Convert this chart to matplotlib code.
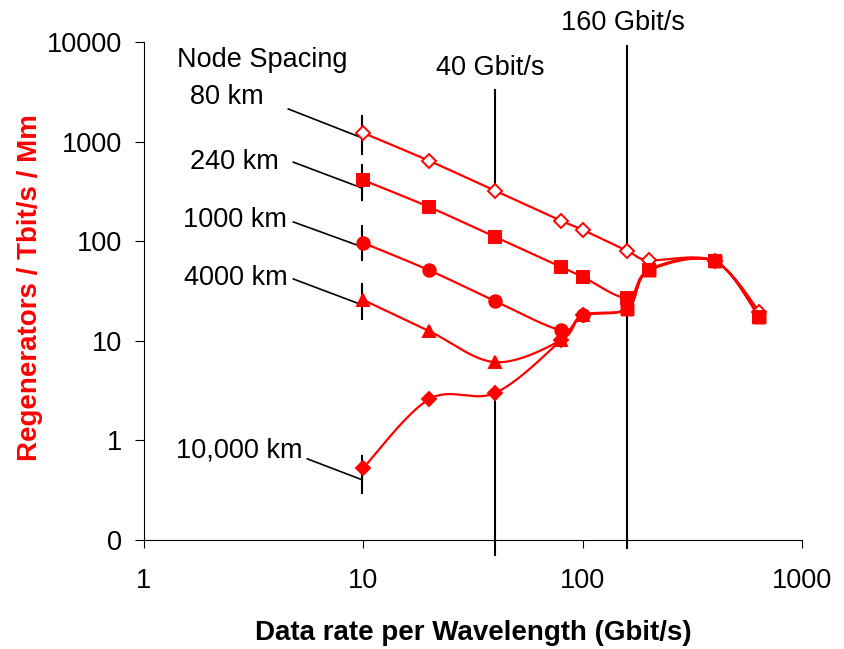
import numpy as np
import matplotlib
matplotlib.use('Agg')
import matplotlib.pyplot as plt
from matplotlib.ticker import FixedLocator, FixedFormatter, NullLocator

plt.rcParams['font.family'] = ['Liberation Sans', 'DejaVu Sans']

# data rate per wavelength (Gbit/s)
rate = [10, 20, 40, 80, 100, 160, 200, 400, 640]
# regenerators / Tbit/s / Mm for each node spacing
regen_80 = [1220, 640, 320, 160, 130, 80, 64.7, 63, 19.5]
regen_240 = [410, 220, 110, 55, 44, 27, 51, 63, 17.3]
regen_1000 = [96, 51, 25, 12.8, 18, 21, 51, 63, 17.3]
regen_4000 = [25.7, 12.5, 6.1, 10.2, 18, 21, 51, 63, 17.3]
regen_10000 = [0.53, 2.6, 3.0, 10.2, 18, 21, 51, 63, 17.3]

spacing_labels = ['80 km', '240 km', '1000 km', '4000 km', '10,000 km']
ytick_values = [0.1, 1, 10, 100, 1000, 10000]
ytick_labels = ['0', '1', '10', '100', '1000', '10000']
xtick_values = [1, 10, 100, 1000]
xtick_labels = ['1', '10', '100', '1000']

RED = '#FF0000'
FS = 19.5


def smooth(x, y, n=40):
    # excel style smoothed line (catmull-rom bezier in log-log space)
    P = np.column_stack([np.log10(x), np.log10(y)])
    Pe = np.vstack([P[0], P, P[-1]])
    t = np.linspace(0, 1, n)[:, None]
    out = []
    for i in range(len(P) - 1):
        p0, p1, p2, p3 = Pe[i], Pe[i + 1], Pe[i + 2], Pe[i + 3]
        c1 = p1 + (p2 - p0) / 6
        c2 = p2 - (p3 - p1) / 6
        seg = (1 - t)**3 * p1 + 3 * (1 - t)**2 * t * c1 + 3 * (1 - t) * t**2 * c2 + t**3 * p2
        out.append(seg if i == 0 else seg[1:])
    arr = 10 ** np.vstack(out)
    return arr[:, 0], arr[:, 1]


fig = plt.figure(figsize=(8.45, 6.49), dpi=100)
ax = fig.add_axes([144 / 845, 1 - 540 / 649, (802 - 144) / 845, (540 - 42) / 649])
ax.set_xscale('log')
ax.set_yscale('log')
ax.set_xlim(1, 1000)
ax.set_ylim(0.1, 10000)

series = [regen_80, regen_240, regen_1000, regen_4000, regen_10000]
for vals in series:
    sx, sy = smooth(rate, vals)
    ax.plot(sx, sy, color=RED, lw=1.6, zorder=3)

# markers (lower curves share square markers from 160 Gbit/s on)
marker_specs = [
    (regen_10000, 'D', RED, 7, True),
    (regen_4000, '^', RED, 9, True),
    (regen_1000, 'o', RED, 9, True),
    (regen_80, 'D', 'white', 7, False),
    (regen_240, 's', RED, 9, False),
]
for vals, mk, fc, ms, tail in marker_specs:
    n = 5 if tail else len(rate)
    ax.plot(rate[:n], vals[:n], ls='none', marker=mk, ms=ms, mfc=fc,
            mec=RED, mew=1.4, zorder=4)
    if tail:
        ax.plot(rate[n:], vals[n:], ls='none', marker='s', ms=9, mfc=RED,
                mec=RED, zorder=4)

ax.xaxis.set_major_locator(FixedLocator(xtick_values))
ax.xaxis.set_major_formatter(FixedFormatter(xtick_labels))
ax.xaxis.set_minor_locator(NullLocator())
ax.yaxis.set_major_locator(FixedLocator(ytick_values))
ax.yaxis.set_major_formatter(FixedFormatter(ytick_labels))
ax.yaxis.set_minor_locator(NullLocator())
ax.tick_params(axis='y', direction='out', length=6.5, width=0.8, pad=9, labelsize=FS)
ax.tick_params(axis='x', direction='out', length=5.5, width=0.8, pad=15, labelsize=FS)
for s in ['top', 'right']:
    ax.spines[s].set_visible(False)
for s in ['left', 'bottom']:
    ax.spines[s].set_color('black')
    ax.spines[s].set_linewidth(0.8)


def off(x, y, dx, dy):
    # point shifted by dx, dy image pixels (dy down)
    p = ax.transData.transform((x, y))
    return ax.transData.inverted().transform((p[0] + dx, p[1] - dy))


# node spacing labels with leaders at 10 Gbit/s
text_off = [(-100, -36), (-85, -18), (-76, -23), (-76, -22), (-61, -17)]
lead_off = [(-75, -24), (-70, -18), (-70, -21), (-70, -21), (-56, -9)]
lead_end = [5, 8, 4, 5, 12]
seg_span = [(-17, 21), (-15, 20), (-17, 17), (-16, 19), (-12, 25)]
for i, vals in enumerate(series):
    v = vals[0]
    tx, ty = off(10, v, *text_off[i])
    ax.text(tx, ty, spacing_labels[i], fontsize=FS, ha='right', va='center')
    a = off(10, v, *lead_off[i])
    b = off(10, v, -1, lead_end[i])
    ax.plot([a[0], b[0]], [a[1], b[1]], color='black', lw=1.2, zorder=2)
    t0 = off(10, v, -1, seg_span[i][0])
    t1 = off(10, v, -1, seg_span[i][1])
    ax.plot([t0[0], t1[0]], [t0[1], t1[1]], color='black', lw=1.5, zorder=2)

fig.text(262 / 845, 1 - 60 / 649, 'Node Spacing', fontsize=FS, ha='center', va='center')

# 40 and 160 Gbit/s markers
for r, top_px, lab, lab_x, lab_y, bot_px in [(40, 90, '40 Gbit/s', 490, 68, 15),
                                              (160, 46, '160 Gbit/s', 623, 23, 8)]:
    i = rate.index(r)
    top = off(r, 10000, 0, top_px - 42)
    ax.plot([r, r], [top[1], regen_80[i]], color='black', lw=1.5, zorder=2, clip_on=False)
    low = min(v[i] for v in series)
    bot = off(r, 0.1, 0, bot_px)
    ax.plot([r, r], [low, bot[1]], color='black', lw=1.5, zorder=2, clip_on=False)
    fig.text(lab_x / 845, 1 - lab_y / 649, lab, fontsize=FS, ha='center', va='center')

fig.text(30 / 845, 1 - 288 / 649, 'Regenerators / Tbit/s / Mm', color=RED, fontsize=20,
         fontweight='bold', rotation=90, ha='center', va='center')
fig.text(473 / 845, 1 - 633 / 649, 'Data rate per Wavelength (Gbit/s)', fontsize=20,
         fontweight='bold', ha='center', va='center')

fig.savefig('out.png', dpi=100)
